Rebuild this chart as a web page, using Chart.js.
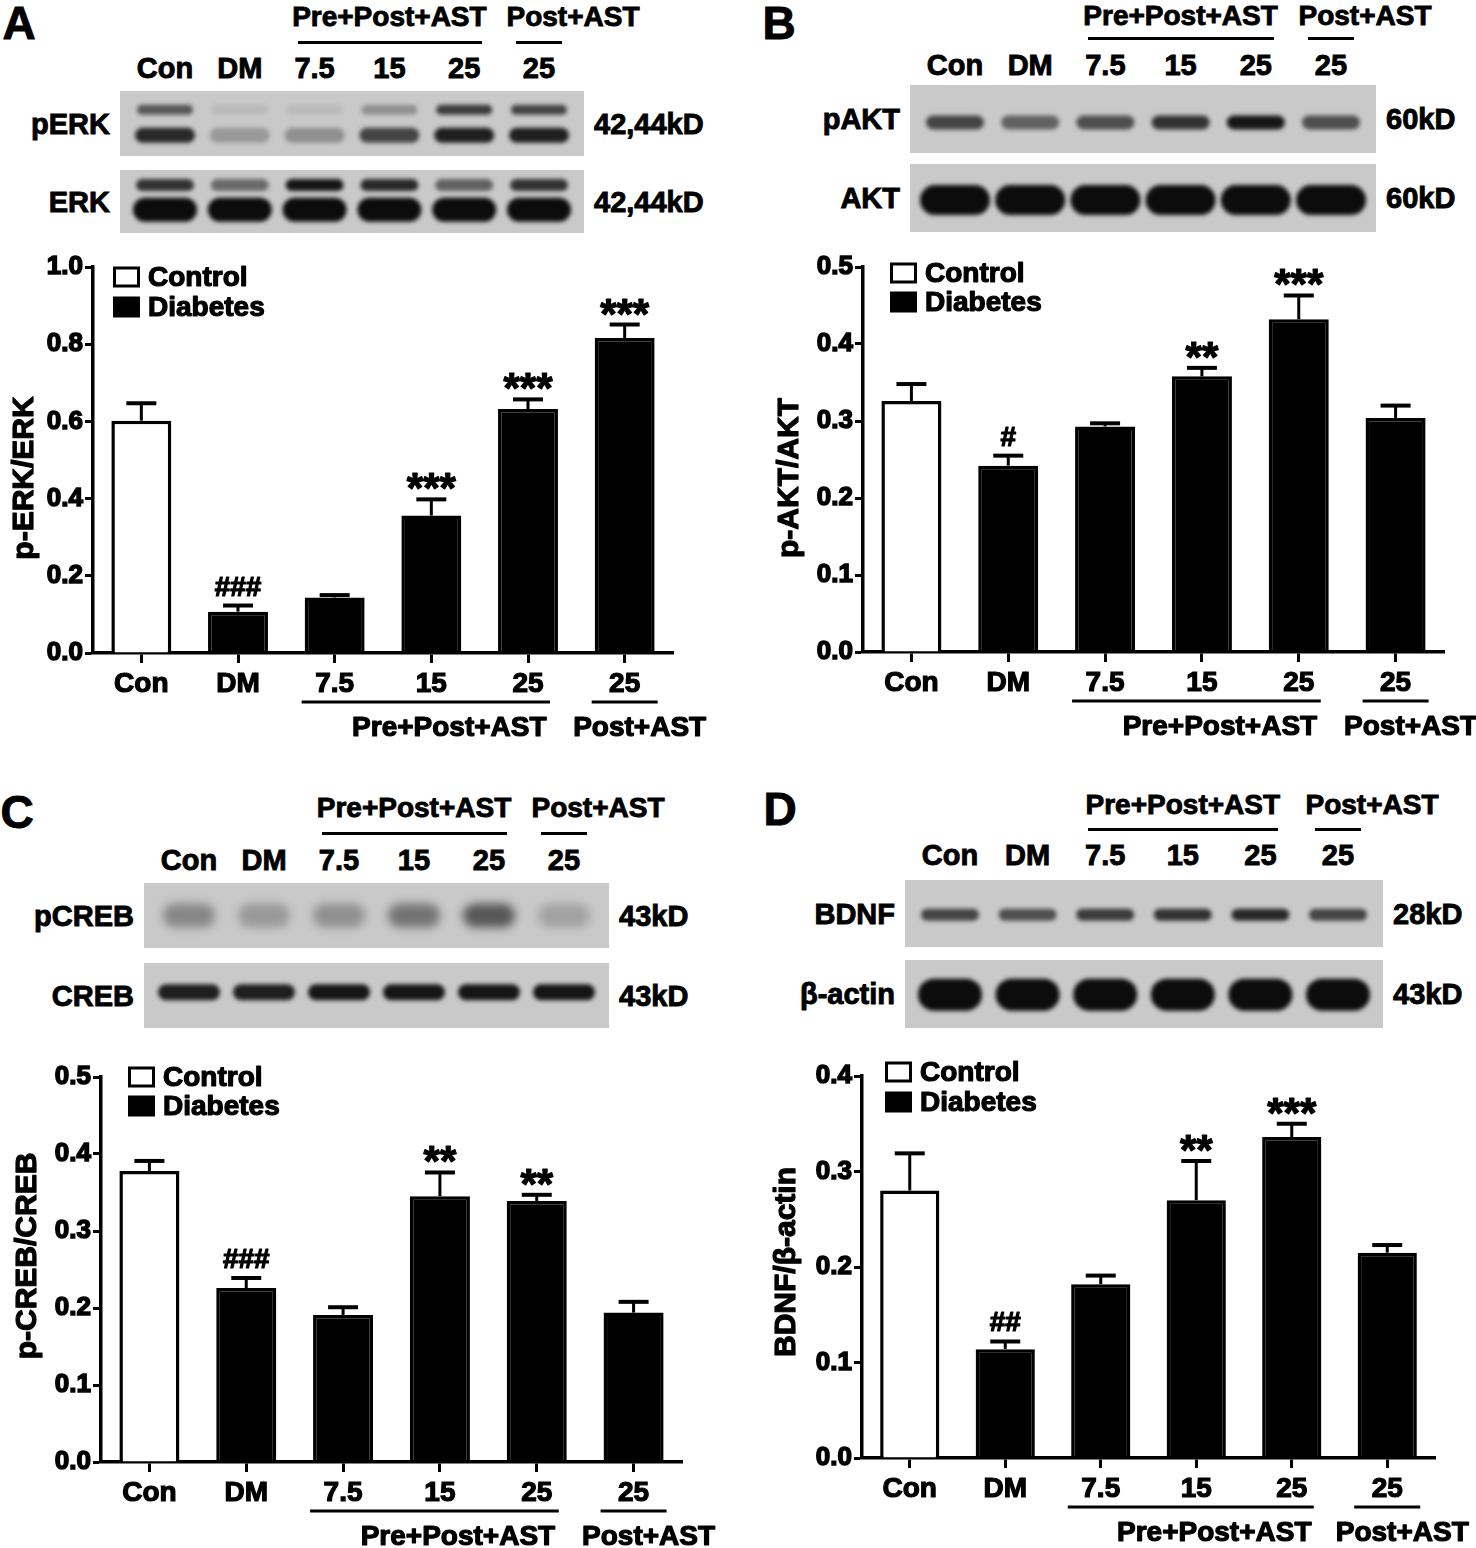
<!DOCTYPE html>
<html>
<head>
<meta charset="utf-8">
<script src="https://cdn.jsdelivr.net/npm/chart.js@4.4.1/dist/chart.umd.min.js"></script>
<style>
  body { margin: 0; background: #fff; }
  #fig { position: relative; width: 1476px; height: 1548px; overflow: hidden;
         font-family: "Liberation Sans", Arial, sans-serif; font-weight: bold; color: #000; }
  .t { position: absolute; white-space: nowrap; line-height: 1; -webkit-text-stroke: 0.9px #000; }
  .hl { position: absolute; height: 3px; background: #000; }
  canvas { position: absolute; }
</style>
</head>
<body>
<div id="fig"></div>
<script>
// categories and legend
const groups = ["Con", "DM", "7.5", "15", "25", "25"];
const legendLabels = ["Control", "Diabetes"];

// A: p-ERK/ERK
const erkMean = [0.602, 0.107, 0.144, 0.356, 0.632, 0.816];
const erkSem = [0.045, 0.016, 0.006, 0.042, 0.025, 0.035];
const erkMarks = ["", "###", "", "***", "***", "***"];
const erkTicks = [0.0, 0.2, 0.4, 0.6, 0.8, 1.0];

// B: p-AKT/AKT
const aktMean = [0.326, 0.242, 0.293, 0.358, 0.432, 0.304];
const aktSem = [0.022, 0.013, 0.004, 0.011, 0.031, 0.016];
const aktMarks = ["", "#", "", "**", "***", ""];
const aktTicks = [0.0, 0.1, 0.2, 0.3, 0.4, 0.5];

// C: p-CREB/CREB
const crebMean = [0.378, 0.226, 0.191, 0.345, 0.339, 0.194];
const crebSem = [0.013, 0.013, 0.010, 0.031, 0.008, 0.014];
const crebMarks = ["", "###", "", "**", "**", ""];
const crebTicks = [0.0, 0.1, 0.2, 0.3, 0.4, 0.5];

// D: BDNF/beta-actin
const bdnfMean = [0.280, 0.114, 0.182, 0.270, 0.336, 0.215];
const bdnfSem = [0.039, 0.008, 0.009, 0.041, 0.014, 0.008];
const bdnfMarks = ["", "##", "", "**", "***", ""];
const bdnfTicks = [0.0, 0.1, 0.2, 0.3, 0.4];

// blot band darkness per lane (0..1)
const pErkUpper = [0.6, 0.08, 0.08, 0.3, 0.75, 0.7];
const pErkLower = [0.85, 0.25, 0.3, 0.7, 0.9, 0.9];
const erkUpper = [0.8, 0.5, 0.95, 0.85, 0.55, 0.8];
const erkLower = [1, 1, 1, 1, 1, 1];
const pAktBand = [0.7, 0.55, 0.65, 0.8, 0.95, 0.65];
const aktBand = [1, 1, 1, 1, 1, 1];
const pCrebBand = [0.35, 0.25, 0.3, 0.45, 0.6, 0.2];
const crebBand = [0.9, 0.9, 0.95, 0.95, 0.95, 0.95];
const bdnfBand = [0.7, 0.65, 0.75, 0.8, 0.85, 0.7];
const actinBand = [1, 1, 1, 1, 1, 1];

const FONT = '"Liberation Sans", Arial, sans-serif';
const fig = document.getElementById('fig');

const panels = [
  {
    letter: 'A', letterPos: [19, 23], head: { textY: 17, lineY: 42, laneY: 68 },
    blotX: [120, 584],
    blots: [
      { name: 'pERK', kd: '42,44kD', y: [91, 156],
        bands: [{ pos: 0.29, h: 10, w: 56, vals: pErkUpper }, { pos: 0.68, h: 15, w: 60, vals: pErkLower }] },
      { name: 'ERK', kd: '42,44kD', y: [170, 233],
        bands: [{ pos: 0.24, h: 12, w: 58, vals: erkUpper }, { pos: 0.63, h: 24, w: 64, vals: erkLower }] }
    ],
    box: { left: 0, top: 240, w: 738, h: 520 }, area: { left: 93, top: 267, right: 673, bottom: 653 },
    legend: { x: 113, y: [277, 307] }, ylabel: { text: 'p-ERK/ERK', x: 25, y: 478 },
    mean: erkMean, sem: erkSem, marks: erkMarks, ticks: erkTicks, max: 1.0
  },
  {
    letter: 'B', letterPos: [779, 23], head: { textY: 16, lineY: 38, laneY: 65 },
    blotX: [910, 1376],
    blots: [
      { name: 'pAKT', kd: '60kD', y: [85, 153], bands: [{ pos: 0.55, h: 14, w: 58, vals: pAktBand }] },
      { name: 'AKT', kd: '60kD', y: [164, 232], bands: [{ pos: 0.53, h: 30, w: 70, vals: aktBand }] }
    ],
    box: { left: 738, top: 240, w: 738, h: 520 }, area: { left: 863, top: 267, right: 1444, bottom: 652 },
    legend: { x: 890, y: [273, 302] }, ylabel: { text: 'p-AKT/AKT', x: 790, y: 478 },
    mean: aktMean, sem: aktSem, marks: aktMarks, ticks: aktTicks, max: 0.5
  },
  {
    letter: 'C', letterPos: [17, 812], head: { textY: 808, lineY: 833, laneY: 860 },
    blotX: [144, 609],
    blots: [
      { name: 'pCREB', kd: '43kD', y: [883, 948], bands: [{ pos: 0.5, h: 24, w: 52, blur: 5, vals: pCrebBand }] },
      { name: 'CREB', kd: '43kD', y: [963, 1028], bands: [{ pos: 0.45, h: 16, w: 62, vals: crebBand }] }
    ],
    box: { left: 0, top: 1040, w: 738, h: 508 }, area: { left: 101, top: 1077, right: 682, bottom: 1462 },
    legend: { x: 128, y: [1077, 1106] }, ylabel: { text: 'p-CREB/CREB', x: 28, y: 1256 },
    mean: crebMean, sem: crebSem, marks: crebMarks, ticks: crebTicks, max: 0.5
  },
  {
    letter: 'D', letterPos: [780, 809], head: { textY: 805, lineY: 829, laneY: 855 },
    blotX: [905, 1383],
    blots: [
      { name: 'BDNF', kd: '28kD', y: [880, 947], bands: [{ pos: 0.52, h: 12, w: 58, vals: bdnfBand }] },
      { name: 'β-actin', kd: '43kD', y: [960, 1028], bands: [{ pos: 0.51, h: 32, w: 64, vals: actinBand }] }
    ],
    box: { left: 738, top: 1040, w: 738, h: 508 }, area: { left: 862, top: 1076, right: 1435, bottom: 1458 },
    legend: { x: 885, y: [1072, 1102] }, ylabel: { text: 'BDNF/β-actin', x: 787, y: 1262 },
    mean: bdnfMean, sem: bdnfSem, marks: bdnfMarks, ticks: bdnfTicks, max: 0.4
  }
];

function addText(str, x, y, size, align) {
  const d = document.createElement('div');
  d.className = 't';
  d.textContent = str;
  d.style.left = x + 'px';
  d.style.top = y + 'px';
  d.style.fontSize = size + 'px';
  const tx = align === 'right' ? '-100%' : align === 'left' ? '0' : '-50%';
  d.style.transform = 'translate(' + tx + ',-50%)';
  fig.appendChild(d);
}

function addLine(x1, x2, y) {
  const d = document.createElement('div');
  d.className = 'hl';
  d.style.left = x1 + 'px';
  d.style.width = (x2 - x1) + 'px';
  d.style.top = (y - 1.5) + 'px';
  fig.appendChild(d);
}

function laneX(p, i) {
  const inset = 45;
  const [l, r] = p.blotX;
  return l + inset + i * (r - l - 2 * inset) / 5;
}

function drawBlot(p, b) {
  const [l, r] = p.blotX;
  const w = r - l, h = b.y[1] - b.y[0];
  const cv = document.createElement('canvas');
  cv.width = w; cv.height = h;
  cv.style.left = l + 'px';
  cv.style.top = b.y[0] + 'px';
  fig.appendChild(cv);
  const ctx = cv.getContext('2d');
  ctx.fillStyle = '#c9c9c9';
  ctx.fillRect(0, 0, w, h);
  b.bands.forEach(band => {
    band.vals.forEach((v, i) => {
      const cx = laneX(p, i) - l;
      const cy = band.pos * h;
      ctx.filter = 'blur(' + (band.blur || 2) + 'px)';
      ctx.fillStyle = 'rgba(12,12,12,' + v + ')';
      ctx.beginPath();
      ctx.roundRect(cx - band.w / 2, cy - band.h / 2, band.w, band.h, band.h / 2);
      ctx.fill();
    });
  });
  ctx.filter = 'none';
  addText(b.name, l - 10, (b.y[0] + b.y[1]) / 2, 29, 'right');
  addText(b.kd, r + 10, (b.y[0] + b.y[1]) / 2, 29, 'left');
}

function heavyText(ctx, s, x, y) {
  ctx.lineWidth = 1.2;
  ctx.lineJoin = 'round';
  ctx.strokeText(s, x, y);
  ctx.fillText(s, x, y);
}

const extras = {
  id: 'extras',
  afterDatasetsDraw(chart, args, opts) {
    const p = opts.panel;
    const ctx = chart.ctx;
    const ys = chart.scales.y;
    const meta = chart.getDatasetMeta(0);
    ctx.save();
    ctx.strokeStyle = '#000';
    ctx.fillStyle = '#000';
    meta.data.forEach((bar, i) => {
      const top = ys.getPixelForValue(p.mean[i]);
      const capY = ys.getPixelForValue(p.mean[i] + p.sem[i]);
      ctx.lineWidth = 3;
      ctx.beginPath();
      ctx.moveTo(bar.x, top);
      ctx.lineTo(bar.x, capY);
      ctx.stroke();
      ctx.lineWidth = 4;
      ctx.beginPath();
      ctx.moveTo(bar.x - 15, capY);
      ctx.lineTo(bar.x + 15, capY);
      ctx.stroke();
      const s = p.marks[i];
      if (s) {
        const size = s[0] === '*' ? 42 : 28;
        ctx.font = 'bold ' + size + 'px ' + FONT;
        ctx.textAlign = 'center';
        ctx.textBaseline = 'alphabetic';
        const m = ctx.measureText(s);
        heavyText(ctx, s, bar.x, capY - 10 - m.actualBoundingBoxDescent);
      }
    });
    ctx.restore();
  },
  afterDraw(chart, args, opts) {
    const p = opts.panel;
    const ctx = chart.ctx;
    const xs = chart.scales.x;
    const ox = p.box.left, oy = p.box.top;
    const bottom = chart.chartArea.bottom;
    ctx.save();
    ctx.fillStyle = '#000';
    ctx.strokeStyle = '#000';
    // legend
    ctx.font = 'bold 28px ' + FONT;
    ctx.textBaseline = 'middle';
    ctx.textAlign = 'left';
    legendLabels.forEach((lab, i) => {
      const bx = p.legend.x - ox, by = p.legend.y[i] - oy;
      if (i === 0) {
        ctx.lineWidth = 3;
        ctx.strokeRect(bx + 1.5, by - 9, 24, 18);
      } else {
        ctx.fillRect(bx, by - 10.5, 27, 21);
      }
      heavyText(ctx, lab, bx + 35, by + 1);
    });
    // y title
    ctx.save();
    ctx.font = 'bold 30px ' + FONT;
    ctx.translate(p.ylabel.x - ox, p.ylabel.y - oy);
    ctx.rotate(-Math.PI / 2);
    ctx.textAlign = 'center';
    heavyText(ctx, p.ylabel.text, 0, 0);
    ctx.restore();
    // treatment group lines and labels
    const p2 = xs.getPixelForTick(2), p3 = xs.getPixelForTick(3), p4 = xs.getPixelForTick(4), p5 = xs.getPixelForTick(5);
    ctx.lineWidth = 3;
    ctx.beginPath();
    ctx.moveTo(p2 - 33, bottom + 49); ctx.lineTo(p4 + 22, bottom + 49);
    ctx.moveTo(p5 - 33, bottom + 49); ctx.lineTo(p5 + 33, bottom + 49);
    ctx.stroke();
    ctx.textAlign = 'center';
    heavyText(ctx, 'Pre+Post+AST', p3 + 18, bottom + 75);
    heavyText(ctx, 'Post+AST', p5 + 15, bottom + 75);
    ctx.restore();
  }
};

function makeChart(p) {
  const cv = document.createElement('canvas');
  cv.width = p.box.w;
  cv.height = p.box.h;
  cv.style.left = p.box.left + 'px';
  cv.style.top = p.box.top + 'px';
  fig.appendChild(cv);
  const font = size => ({ family: FONT, size: size, weight: 'bold' });
  new Chart(cv, {
    type: 'bar',
    data: {
      labels: groups,
      datasets: [{
        data: p.mean,
        backgroundColor: groups.map((g, i) => i === 0 ? '#fff' : '#000'),
        borderColor: '#000',
        borderWidth: 3.5,
        barPercentage: 0.62,
        categoryPercentage: 1
      }]
    },
    options: {
      responsive: false,
      animation: false,
      layout: {
        padding: {
          left: 0,
          top: p.area.top - p.box.top,
          right: p.box.left + p.box.w - p.area.right,
          bottom: 0
        }
      },
      scales: {
        x: {
          offset: true,
          grid: { drawOnChartArea: false, offset: false, tickLength: 10, tickWidth: 3, tickColor: '#000' },
          border: { display: true, width: 3.5, color: '#000' },
          ticks: { color: '#000', font: font(28), padding: 4, maxRotation: 0, autoSkip: false,
                   textStrokeColor: '#000', textStrokeWidth: 1.2 },
          afterFit: s => { s.height = p.box.top + p.box.h - p.area.bottom; }
        },
        y: {
          min: 0,
          max: p.max,
          afterBuildTicks: s => { s.ticks = p.ticks.map(v => ({ value: v })); },
          grid: { drawOnChartArea: false, tickLength: 8, tickWidth: 3, tickColor: '#000' },
          border: { display: true, width: 3.5, color: '#000' },
          ticks: { color: '#000', font: font(26), padding: 2, callback: v => Number(v).toFixed(1),
                   textStrokeColor: '#000', textStrokeWidth: 1.5 },
          afterFit: s => { s.width = p.area.left - p.box.left; }
        }
      },
      plugins: {
        legend: { display: false },
        tooltip: { enabled: false },
        extras: { panel: p }
      }
    },
    plugins: [extras]
  });
}

panels.forEach(p => {
  addText(p.letter, p.letterPos[0], p.letterPos[1], 46, 'center');
  const l2 = laneX(p, 2), l4 = laneX(p, 4), l5 = laneX(p, 5);
  addText('Pre+Post+AST', (l2 + l4) / 2, p.head.textY, 28, 'center');
  addLine(l2 - 17, l4 + 18, p.head.lineY);
  addText('Post+AST', l5 + 34, p.head.textY, 28, 'center');
  addLine(l5 - 23, l5 + 23, p.head.lineY);
  groups.forEach((g, i) => addText(g, laneX(p, i), p.head.laneY, 29, 'center'));
  p.blots.forEach(b => drawBlot(p, b));
  makeChart(p);
});
</script>
</body>
</html>
